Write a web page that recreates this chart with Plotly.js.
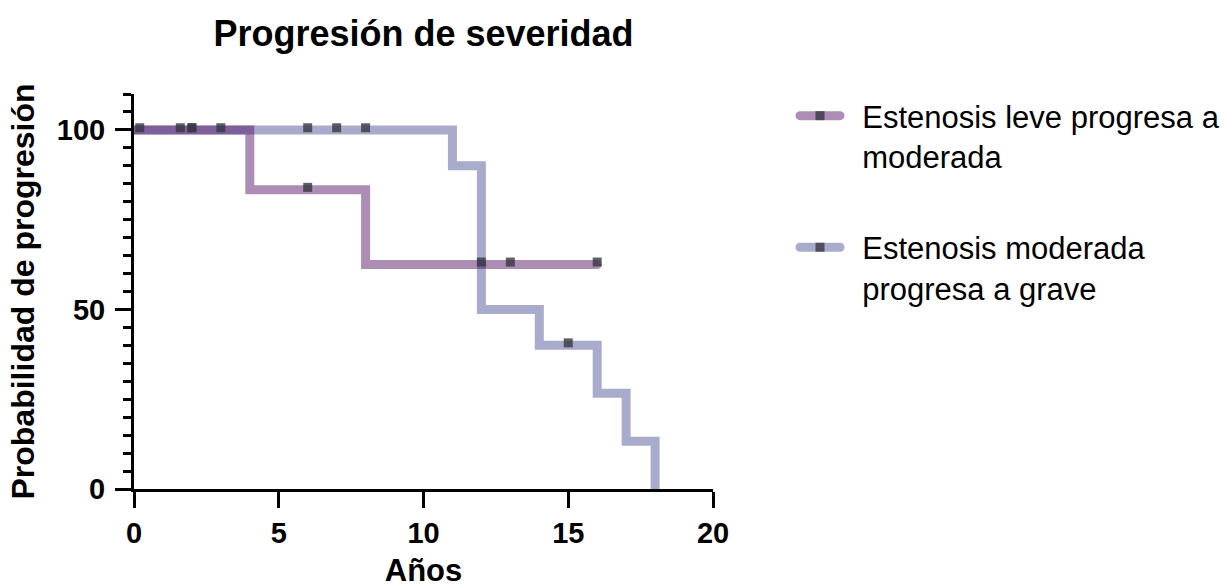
<!DOCTYPE html>
<html>
<head>
<meta charset="utf-8">
<script src="https://cdn.plot.ly/plotly-3.0.1.min.js"></script>
<style>
html,body{margin:0;padding:0;background:#fff;}
#chart{width:1224px;height:588px;}
.js-line{stroke-linecap:round;}
</style>
</head>
<body>
<div id="chart"></div>
<script>
// Series names
const seriesNames = ["\u00a0\u00a0Estenosis leve progresa a<br>\u00a0\u00a0moderada", "\u00a0\u00a0Estenosis moderada<br>\u00a0\u00a0progresa a grave"];

// Step curves (Kaplan-Meier style), years vs probability (%)
const leveX = [0, 4, 8, 16];
const leveY = [100, 83.33, 62.5, 62.5];
const modX  = [0, 11, 12, 14, 16, 17, 18];
const modY  = [100, 90, 50, 40, 26.67, 13.33, 0];

// Censored observations (tick marks)
const leveCensX = [0.2, 1.6, 2, 3, 6, 12, 13, 16];
const leveCensY = [100.6, 100.6, 100.6, 100.6, 84, 63.2, 63.2, 63.2];
const modCensX  = [2, 6, 7, 8, 15];
const modCensY  = [100.6, 100.6, 100.6, 100.6, 40.7];

// Axis ticks
const xTicks = [0, 5, 10, 15, 20];
const yTicks = [0, 50, 100];

const purple = "rgba(80,10,100,0.47)";
const blue = "rgba(70,77,147,0.47)";
const censColor = "rgba(55,55,65,0.8)";
const FONT = "Liberation Sans, Arial, sans-serif";

const traces = [
  {x: modX, y: modY, type: "scatter", mode: "lines", line: {shape: "hv", color: blue, width: 9}, showlegend: false, hoverinfo: "skip"},
  {x: leveX, y: leveY, type: "scatter", mode: "lines", line: {shape: "hv", color: purple, width: 9}, showlegend: false, hoverinfo: "skip"},
  {x: modCensX, y: modCensY, type: "scatter", mode: "markers", marker: {symbol: "square", size: 9, color: censColor}, showlegend: false, cliponaxis: false},
  {x: leveCensX, y: leveCensY, type: "scatter", mode: "markers", marker: {symbol: "square", size: 9, color: censColor}, showlegend: false, cliponaxis: false},
  // legend entries
  {x: [null], y: [null], type: "scatter", mode: "lines+markers", name: seriesNames[0], legendgroup: "a",
   line: {color: purple, width: 9}, marker: {symbol: "square", size: 9, color: censColor}},
  {x: [null], y: [null], type: "scatter", mode: "lines+markers", name: seriesNames[1], legendgroup: "b",
   line: {color: blue, width: 9}, marker: {symbol: "square", size: 9, color: censColor}}
];

const layout = {
  width: 1224, height: 588,
  paper_bgcolor: "#fff", plot_bgcolor: "#fff",
  margin: {l: 134, r: 511, t: 94, b: 99},
  font: {family: FONT, color: "#000"},
  title: {text: "Progresión de severidad", x: 0.5, xref: "paper", xanchor: "center",
          y: 1 - 33/588, yref: "container", yanchor: "middle",
          font: {size: 36, weight: "bold", family: FONT, color: "#000"}},
  xaxis: {
    range: [0, 20], tickvals: xTicks, ticktext: xTicks.map(String),
    showgrid: false, zeroline: false, showline: true, linecolor: "#000", linewidth: 3,
    ticks: "outside", ticklen: 16, tickwidth: 3, tickcolor: "#000",
    tickfont: {size: 29, weight: "bold", family: FONT}, layer: "below traces",
    title: {text: "Años", font: {size: 31, weight: "bold", family: FONT}, standoff: 20},
    automargin: false, fixedrange: true
  },
  yaxis: {
    range: [0, 110], tickvals: yTicks, ticktext: yTicks.map(String),
    showgrid: false, zeroline: false, showline: true, linecolor: "#000", linewidth: 3,
    ticks: "outside", ticklen: 16, tickwidth: 3, tickcolor: "#000", ticklabelstandoff: 4,
    minor: {dtick: 5, ticks: "outside", ticklen: 8, tickwidth: 3, tickcolor: "#000", showgrid: false},
    tickfont: {size: 29, weight: "bold", family: FONT}, layer: "below traces",
    title: {text: "Probabilidad de progresión", font: {size: 32, weight: "bold", family: FONT}, standoff: 13},
    automargin: false, fixedrange: true
  },
  legend: {
    xref: "container", yref: "container", x: 795/1224, y: 1 - 89/588, xanchor: "left", yanchor: "top",
    font: {size: 31, family: FONT, color: "#000"}, itemwidth: 40, valign: "top",
    tracegroupgap: 48, traceorder: "grouped", bgcolor: "rgba(0,0,0,0)"
  },
  showlegend: true
};

Plotly.newPlot("chart", traces, layout, {staticPlot: true, displayModeBar: false});
</script>
</body>
</html>
